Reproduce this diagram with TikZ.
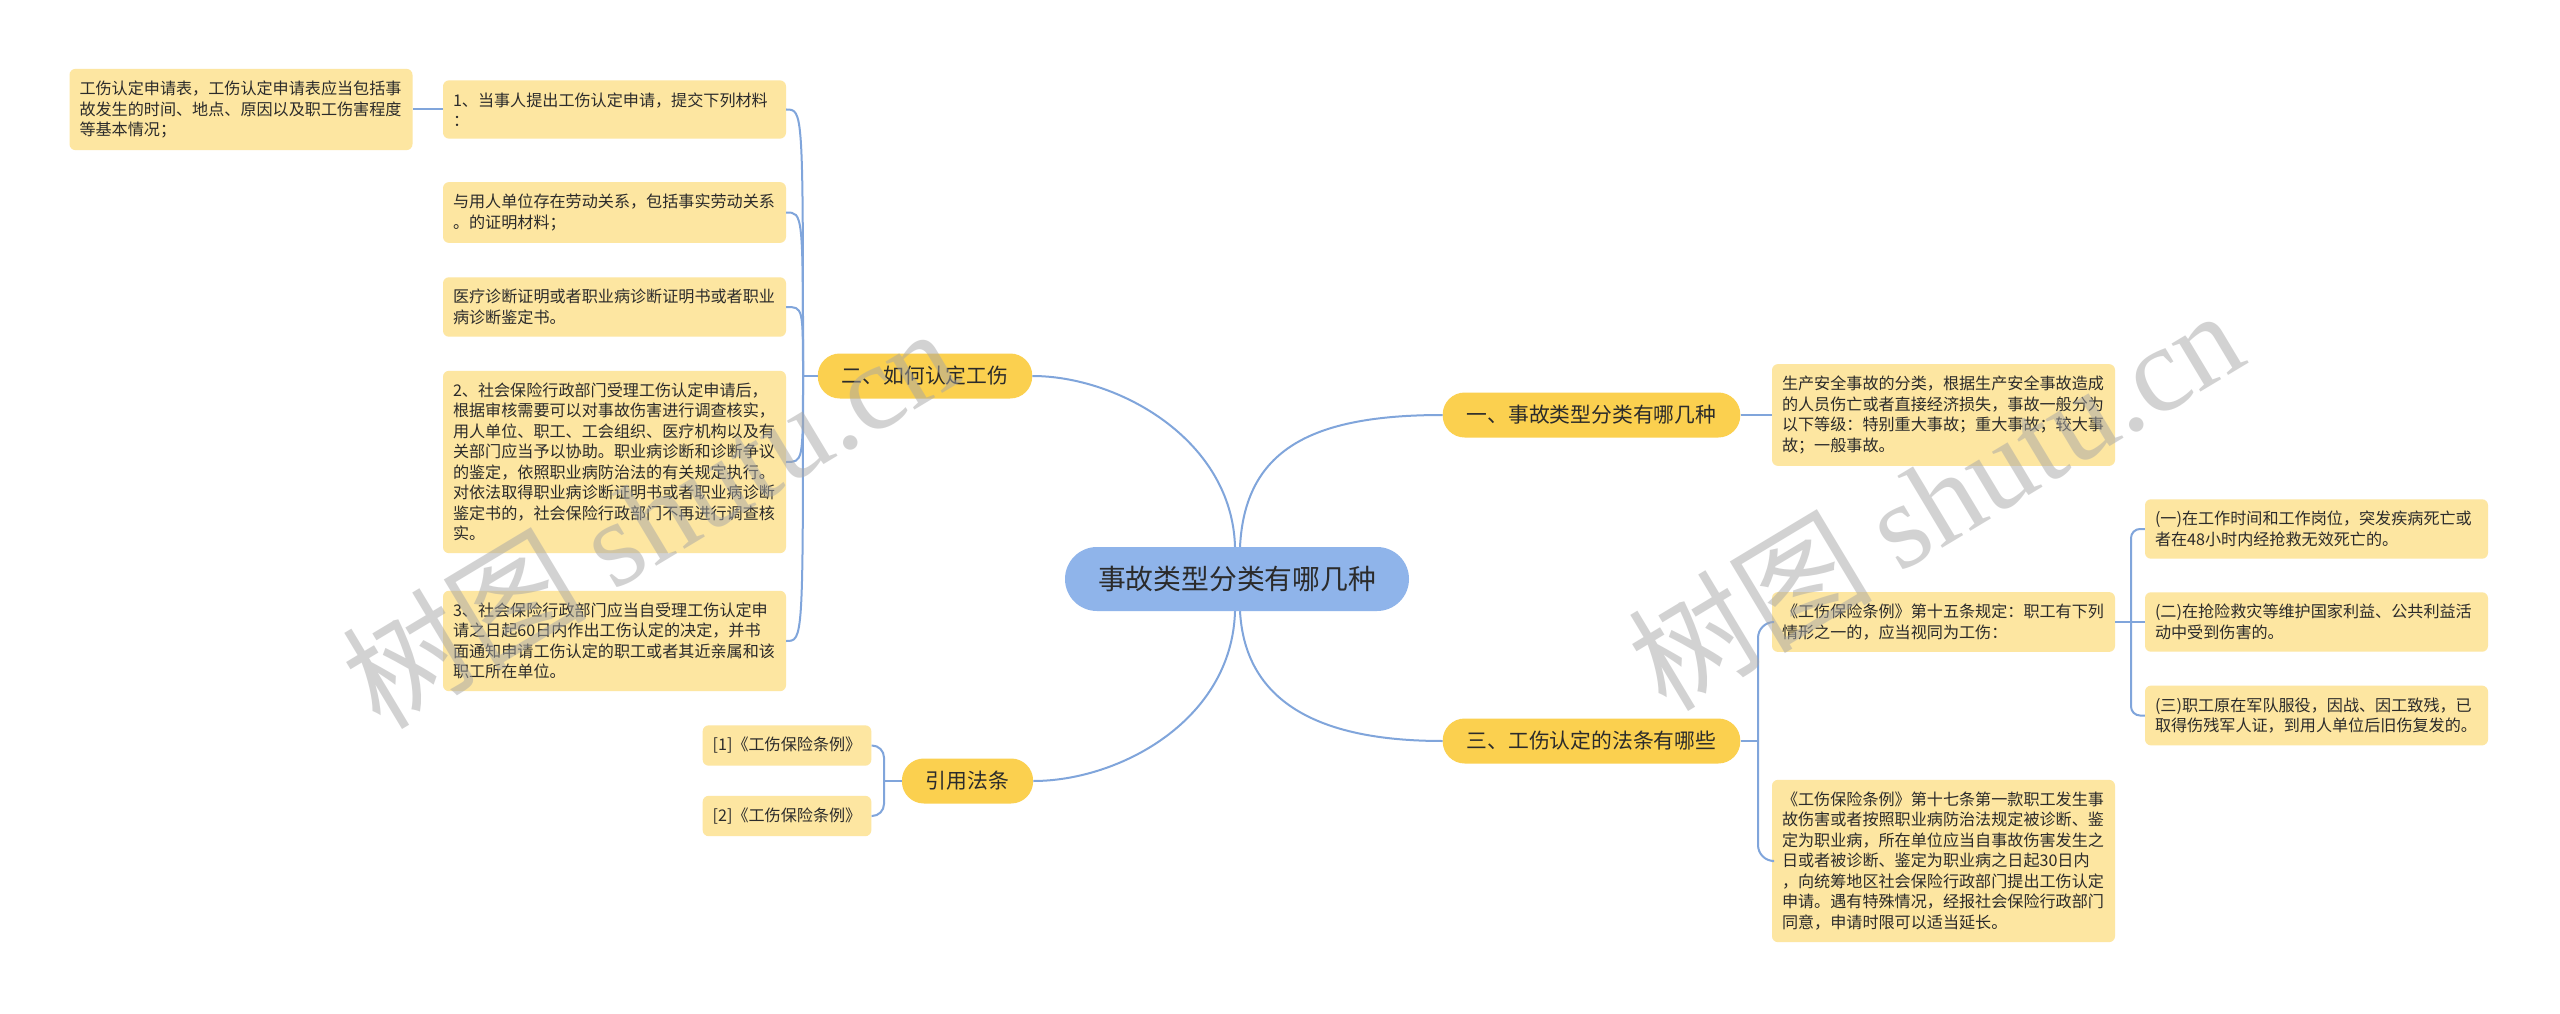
\documentclass[tikz,border=0pt]{standalone}
\usepackage{fontspec}
\setmainfont{Noto Sans CJK SC}
\newfontfamily\wmserif{Liberation Serif}
\usetikzlibrary{calc}
\definecolor{rootfill}{HTML}{8FB4EA}
\definecolor{mainfill}{HTML}{FBD04F}
\definecolor{leaffill}{HTML}{FDE6A1}
\definecolor{linkcol}{HTML}{80A5DB}
\definecolor{textcol}{HTML}{2B2B2B}
\begin{document}
\begin{tikzpicture}[x=1pt,y=-1pt,
  rootbox/.style={fill=rootfill, rounded corners=32pt, minimum height=64pt, inner xsep=33pt, inner ysep=0pt, font=\fontsize{27.8}{32}\selectfont, text=textcol},
  mainbox/.style={fill=mainfill, rounded corners=22pt, minimum height=45pt, inner xsep=24pt, inner ysep=0pt, font=\fontsize{20.8}{24}\selectfont, text=textcol},
  leafbox/.style={fill=leaffill, rounded corners=6pt, inner xsep=10pt, inner ysep=12pt, font=\fontsize{16.1}{20.5}\selectfont, text=textcol},
  leafwide/.style={text width=323pt, align=left},
  link/.style={draw=linkcol, line width=2pt},
  elbow/.style={link, rounded corners=12pt},
  wmark/.style={text=black!35, text opacity=0.5, font=\fontsize{122}{130}\selectfont, inner sep=0pt},
]
\useasboundingbox[fill=white] (0,0) rectangle (2560,1014);

% root and main branches
\node[rootbox] (root) at (1237,579) {事故类型分类有哪几种};
\node[mainbox] (m1) at (1591.5,415) {一、事故类型分类有哪几种};
\node[mainbox] (m2) at (925,376) {二、如何认定工伤};
\node[mainbox] (m3) at (1591.5,741) {三、工伤认定的法条有哪些};
\node[mainbox] (m4) at (967.5,781) {引用法条};

% left leaves
\node[leafbox, leafwide] (l0) at (241,109.5) {工伤认定申请表，工伤认定申请表应当包括事\\故发生的时间、地点、原因以及职工伤害程度\\等基本情况；};
\node[leafbox, leafwide] (l1) at (614.5,109.5) {1、当事人提出工伤认定申请，提交下列材料\\：};
\node[leafbox, leafwide] (l2) at (614.5,212.5) {与用人单位存在劳动关系，包括事实劳动关系\\。的证明材料；};
\node[leafbox, leafwide] (l3) at (614.5,307) {医疗诊断证明或者职业病诊断证明书或者职业\\病诊断鉴定书。};
\node[leafbox, leafwide] (l4) at (614.5,462) {2、社会保险行政部门受理工伤认定申请后，\\根据审核需要可以对事故伤害进行调查核实，\\用人单位、职工、工会组织、医疗机构以及有\\关部门应当予以协助。职业病诊断和诊断争议\\的鉴定，依照职业病防治法的有关规定执行。\\对依法取得职业病诊断证明书或者职业病诊断\\鉴定书的，社会保险行政部门不再进行调查核\\实。};
\node[leafbox, leafwide] (l5) at (614.5,641) {3、社会保险行政部门应当自受理工伤认定申\\请之日起60日内作出工伤认定的决定，并书\\面通知申请工伤认定的职工或者其近亲属和该\\职工所在单位。};

\node[leafbox] (r1) at (787,745.5) {[1]《工伤保险条例》};
\node[leafbox] (r2) at (787,816) {[2]《工伤保险条例》};

% right leaves
\node[leafbox, leafwide] (s1) at (1943.5,415) {生产安全事故的分类，根据生产安全事故造成\\的人员伤亡或者直接经济损失，事故一般分为\\以下等级：特别重大事故；重大事故；较大事\\故；一般事故。};
\node[leafbox, leafwide] (s2) at (1943.5,622) {《工伤保险条例》第十五条规定：职工有下列\\情形之一的，应当视同为工伤：};
\node[leafbox, leafwide] (s3) at (1943.5,861) {《工伤保险条例》第十七条第一款职工发生事\\故伤害或者按照职业病防治法规定被诊断、鉴\\定为职业病，所在单位应当自事故伤害发生之\\日或者被诊断、鉴定为职业病之日起30日内\\，向统筹地区社会保险行政部门提出工伤认定\\申请。遇有特殊情况，经报社会保险行政部门\\同意，申请时限可以适当延长。};
\node[leafbox, leafwide] (t1) at (2316.5,529) {(一)在工作时间和工作岗位，突发疾病死亡或\\者在48小时内经抢救无效死亡的。};
\node[leafbox, leafwide] (t2) at (2316.5,622) {(二)在抢险救灾等维护国家利益、公共利益活\\动中受到伤害的。};
\node[leafbox, leafwide] (t3) at (2316.5,715.5) {(三)职工原在军队服役，因战、因工致残，已\\取得伤残军人证，到用人单位后旧伤复发的。};

% root connectors
\draw[link] ([xshift=3pt]root.north) .. controls +(5,-97) and +(-132,0) .. (m1.west);
\draw[link] ([xshift=-2pt]root.north) .. controls +(-3,-107) and +(86,0) .. (m2.east);
\draw[link] ([xshift=3pt]root.south) .. controls +(5,89) and +(-127,0) .. (m3.west);
\draw[link] ([xshift=-2pt]root.south) .. controls +(-3,109) and +(86,0) .. (m4.east);

% branch 1
\draw[link] (m1.east) -- (s1.west);

% branch 2
\coordinate (b2) at (803,376);
\draw[link] (m2.west) -- (b2);
\foreach \n in {l1,l2,l3,l4,l5}{
  \draw[link] (b2) .. controls (b2 |- \n.east) and (b2 |- \n.east) .. (\n.east);
}
\draw[link] (l1.west) -- (l0.east);

% branch 3
\coordinate (b3) at (1758,741);
\draw[link] (m3.east) -- (b3);
\draw[link, rounded corners=16pt] (b3) |- (s2.west);
\draw[link, rounded corners=16pt] (b3) |- (s3.west);
\coordinate (b5) at (2131,622);
\draw[link] (s2.east) -- (t2.west);
\draw[elbow, rounded corners=9pt] (b5) |- (t1.west);
\draw[elbow, rounded corners=9pt] (b5) |- (t3.west);

% branch 4
\coordinate (b4) at (884,781);
\draw[link] (m4.west) -- (b4);
\draw[elbow] (b4) |- (r1.east);
\draw[elbow] (b4) |- (r2.east);

% watermarks
\node[wmark, rotate=31] (wm1) at (649,516) {树图 {\wmserif shutu.cn}};
\node[wmark, rotate=31] (wm2) at (1935,498) {树图 {\wmserif shutu.cn}};
\end{tikzpicture}
\end{document}
